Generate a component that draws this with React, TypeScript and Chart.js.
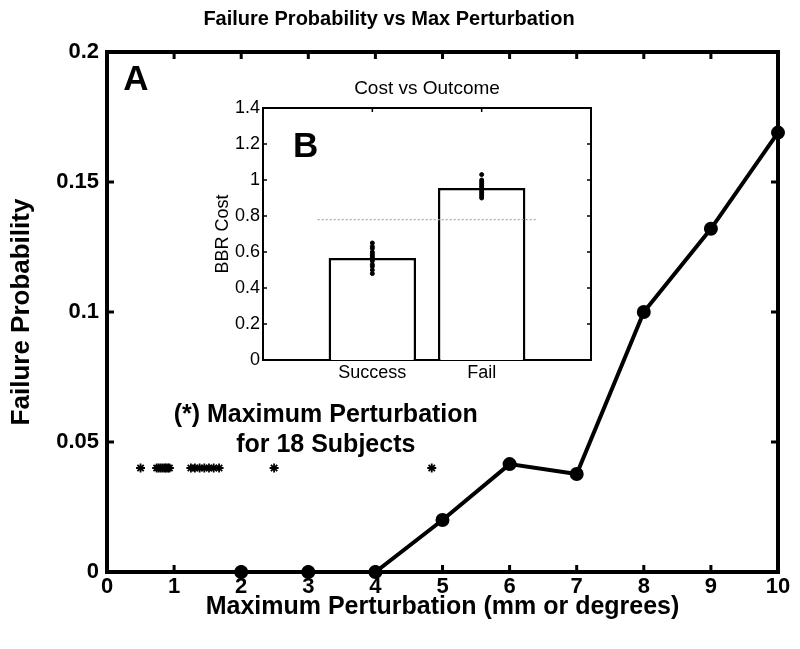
import React, { useEffect, useRef } from 'react';
import { Chart, registerables } from 'chart.js';

Chart.register(...registerables);

// ---------- Main panel data ----------
const perturbationLevels = [2, 3, 4, 5, 6, 7, 8, 9, 10];
const failureProbability = [0, 0, 0, 0.02, 0.0415, 0.0377, 0.1, 0.132, 0.169];
const subjectMaxPerturbation = [
  0.5, 0.74, 0.77, 0.8, 0.83, 0.86, 0.88, 0.91, 1.25, 1.31, 1.38, 1.45, 1.52, 1.59, 1.67, 2.49, 4.84,
  0.93,
];
const subjectMarkerLevel = 0.04;
const mainXTicks = [0, 1, 2, 3, 4, 5, 6, 7, 8, 9, 10];
const mainYTicks = [0, 0.05, 0.1, 0.15, 0.2];
const mainYTickLabels = ['0', '0.05', '0.1', '0.15', '0.2'];

// ---------- Inset data ----------
const outcomeCategories = ['Success', 'Fail'];
const meanCost = [0.567, 0.955];
const successCosts = [0.48, 0.5, 0.52, 0.53, 0.55, 0.56, 0.57, 0.58, 0.59, 0.6, 0.62, 0.63, 0.65];
const failCosts = [0.9, 0.91, 0.92, 0.93, 0.94, 0.95, 0.96, 0.97, 0.98, 0.99, 1.0, 1.03];
const costThreshold = 0.78;
const thresholdSpan = [0.5, 2.5];
const insetYTicks = [0, 0.2, 0.4, 0.6, 0.8, 1, 1.2, 1.4];
const insetYTickLabels = ['0', '0.2', '0.4', '0.6', '0.8', '1', '1.2', '1.4'];

const FONT = "'Liberation Sans', Arial, Helvetica, sans-serif";

const frameTicksPlugin = {
  id: 'frameTicks',
  beforeDatasetsDraw(chart: any, _args: any, opts: any) {
    const { ctx, chartArea } = chart;
    const { left, right, top, bottom } = chartArea;
    const xs = chart.scales.x;
    const ys = chart.scales.y;
    ctx.save();
    if (opts.fill) {
      ctx.fillStyle = opts.fill;
      ctx.fillRect(left, top, right - left, bottom - top);
    }
    ctx.strokeStyle = '#000';
    ctx.lineWidth = opts.tickWidth;
    ctx.beginPath();
    for (const v of opts.xTicks) {
      const p = xs.getPixelForValue(v);
      ctx.moveTo(p, bottom);
      ctx.lineTo(p, bottom - opts.tickLen);
      ctx.moveTo(p, top);
      ctx.lineTo(p, top + opts.tickLen);
    }
    for (const v of opts.yTicks) {
      const p = ys.getPixelForValue(v);
      ctx.moveTo(left, p);
      ctx.lineTo(left + opts.tickLen, p);
      ctx.moveTo(right, p);
      ctx.lineTo(right - opts.tickLen, p);
    }
    ctx.stroke();
    ctx.lineWidth = opts.borderWidth;
    ctx.strokeRect(left, top, right - left, bottom - top);
    ctx.restore();
  },
};

const panelTextPlugin = {
  id: 'panelText',
  afterDatasetsDraw(chart: any, _args: any, opts: any) {
    const { ctx } = chart;
    const xs = chart.scales.x;
    const ys = chart.scales.y;
    for (const t of opts.items || []) {
      ctx.save();
      ctx.font = t.font;
      ctx.fillStyle = '#000';
      ctx.textAlign = 'center';
      ctx.textBaseline = 'middle';
      ctx.fillText(t.text, xs.getPixelForValue(t.x), ys.getPixelForValue(t.y));
      ctx.restore();
    }
  },
};

function MainChart() {
  const ref = useRef<HTMLCanvasElement | null>(null);
  useEffect(() => {
    if (!ref.current) return;
    const chart = new Chart(ref.current, {
      type: 'line',
      data: {
        datasets: [
          {
            label: 'Failure probability',
            data: perturbationLevels.map((x, i) => ({ x, y: failureProbability[i] })),
            borderColor: '#000',
            backgroundColor: '#000',
            borderWidth: 4,
            pointRadius: 5,
            pointBackgroundColor: '#000',
            pointBorderColor: '#000',
            tension: 0,
            clip: false as any,
          },
          {
            label: 'Subjects',
            type: 'scatter' as any,
            data: subjectMaxPerturbation.map((x) => ({ x, y: subjectMarkerLevel })),
            pointStyle: 'star',
            pointRadius: 4.5,
            borderColor: '#000',
            borderWidth: 1.8,
            showLine: false,
            clip: false as any,
          },
        ],
      },
      options: {
        animation: false,
        responsive: false,
        layout: { padding: { left: 0, right: 22, top: 0, bottom: 0 } },
        scales: {
          x: {
            type: 'linear',
            min: 0,
            max: 10,
            grid: { display: false, drawTicks: false },
            border: { display: false },
            afterBuildTicks: (s: any) => {
              s.ticks = mainXTicks.map((v) => ({ value: v }));
            },
            afterFit: (s: any) => {
              s.height = 77;
            },
            ticks: {
              padding: 2,
              color: '#000',
              font: { family: FONT, size: 22, weight: 'bold' },
              callback: (v: any) => String(v),
              maxRotation: 0,
            },
            title: {
              display: true,
              text: 'Maximum Perturbation (mm or degrees)',
              color: '#000',
              font: { family: FONT, size: 25, weight: 'bold' },
              padding: { top: 0, bottom: 27 },
            },
          },
          y: {
            type: 'linear',
            min: 0,
            max: 0.2,
            grid: { display: false, drawTicks: false },
            border: { display: false },
            afterBuildTicks: (s: any) => {
              s.ticks = mainYTicks.map((v) => ({ value: v }));
            },
            afterFit: (s: any) => {
              s.width = 107;
            },
            ticks: {
              padding: 8,
              color: '#000',
              font: { family: FONT, size: 22, weight: 'bold' },
              callback: (_v: any, i: number) => mainYTickLabels[i],
            },
            title: {
              display: true,
              text: 'Failure Probability',
              color: '#000',
              font: { family: FONT, size: 26, weight: 'bold' },
              padding: { top: 6, bottom: 0 },
            },
          },
        },
        plugins: {
          legend: { display: false },
          tooltip: { enabled: false },
          title: {
            display: true,
            text: 'Failure Probability vs Max Perturbation',
            color: '#000',
            font: { family: FONT, size: 20, weight: 'bold' },
            padding: { top: 7, bottom: 21 },
          },
          frameTicks: {
            xTicks: mainXTicks,
            yTicks: mainYTicks,
            tickLen: 7,
            tickWidth: 3,
            borderWidth: 4,
          },
          panelText: {
            items: [
              { text: 'A', x: 0.43, y: 0.189, font: `bold 35px ${FONT}` },
              { text: '(*) Maximum Perturbation', x: 3.26, y: 0.0602, font: `bold 25px ${FONT}` },
              { text: 'for 18 Subjects', x: 3.26, y: 0.0488, font: `bold 25px ${FONT}` },
            ],
          },
        } as any,
      },
      plugins: [frameTicksPlugin, panelTextPlugin],
    } as any);
    return () => chart.destroy();
  }, []);
  return (
    <canvas
      ref={ref}
      width={800}
      height={649}
      style={{ position: 'absolute', left: 0, top: 0, width: 800, height: 649 }}
    />
  );
}

function InsetChart() {
  const ref = useRef<HTMLCanvasElement | null>(null);
  useEffect(() => {
    if (!ref.current) return;
    const chart = new Chart(ref.current, {
      type: 'bar',
      data: {
        datasets: [
          {
            label: 'Mean cost',
            data: meanCost.map((y, i) => ({ x: i + 1, y })),
            backgroundColor: '#fff',
            borderColor: '#000',
            borderWidth: 2.5,
            borderSkipped: 'bottom',
            barPercentage: 0.8,
            categoryPercentage: 1,
            order: 3,
          },
          {
            label: 'Success subjects',
            type: 'scatter' as any,
            data: successCosts.map((y) => ({ x: 1, y })),
            pointRadius: 2,
            backgroundColor: '#000',
            borderColor: '#000',
            order: 1,
          },
          {
            label: 'Fail subjects',
            type: 'scatter' as any,
            data: failCosts.map((y) => ({ x: 2, y })),
            pointRadius: 2,
            backgroundColor: '#000',
            borderColor: '#000',
            order: 1,
          },
          {
            label: 'Threshold',
            type: 'line' as any,
            data: thresholdSpan.map((x) => ({ x, y: costThreshold })),
            borderColor: '#aaaaaa',
            borderWidth: 1.2,
            borderDash: [2, 2],
            pointRadius: 0,
            order: 2,
          },
        ],
      },
      options: {
        animation: false,
        responsive: false,
        layout: { padding: { left: 0, right: 29, top: 0, bottom: 0 } },
        scales: {
          x: {
            type: 'linear',
            min: 0,
            max: 3,
            offset: false,
            grid: { display: false, drawTicks: false },
            border: { display: false },
            afterBuildTicks: (s: any) => {
              s.ticks = [1, 2].map((v) => ({ value: v }));
            },
            afterFit: (s: any) => {
              s.height = 30;
            },
            ticks: {
              padding: 2,
              color: '#000',
              font: { family: FONT, size: 18 },
              callback: (v: any) => outcomeCategories[Math.round(v) - 1] ?? '',
              maxRotation: 0,
            },
          },
          y: {
            type: 'linear',
            min: 0,
            max: 1.4,
            grid: { display: false, drawTicks: false },
            border: { display: false },
            afterBuildTicks: (s: any) => {
              s.ticks = insetYTicks.map((v) => ({ value: v }));
            },
            afterFit: (s: any) => {
              s.width = 63;
            },
            ticks: {
              padding: 3,
              color: '#000',
              font: { family: FONT, size: 18 },
              callback: (_v: any, i: number) => insetYTickLabels[i],
            },
            title: {
              display: true,
              text: 'BBR Cost',
              color: '#000',
              font: { family: FONT, size: 18 },
              padding: { top: 12, bottom: 0 },
            },
          },
        },
        plugins: {
          legend: { display: false },
          tooltip: { enabled: false },
          title: {
            display: true,
            fullSize: false,
            text: 'Cost vs Outcome',
            color: '#000',
            font: { family: FONT, size: 19, weight: 'normal' },
            padding: { top: 7, bottom: 8.2 },
          },
          frameTicks: {
            fill: '#fff',
            xTicks: [1, 2],
            yTicks: insetYTicks,
            tickLen: 4,
            tickWidth: 1.5,
            borderWidth: 2,
          },
          panelText: {
            items: [{ text: 'B', x: 0.39, y: 1.18, font: `bold 35px ${FONT}` }],
          },
        } as any,
      },
      plugins: [frameTicksPlugin, panelTextPlugin],
    } as any);
    return () => chart.destroy();
  }, []);
  return (
    <canvas
      ref={ref}
      width={420}
      height={320}
      style={{ position: 'absolute', left: 200, top: 70, width: 420, height: 320 }}
    />
  );
}

export default function App() {
  return (
    <div style={{ position: 'absolute', left: 0, top: 0, width: 800, height: 649, background: '#fff' }}>
      <MainChart />
      <InsetChart />
    </div>
  );
}
